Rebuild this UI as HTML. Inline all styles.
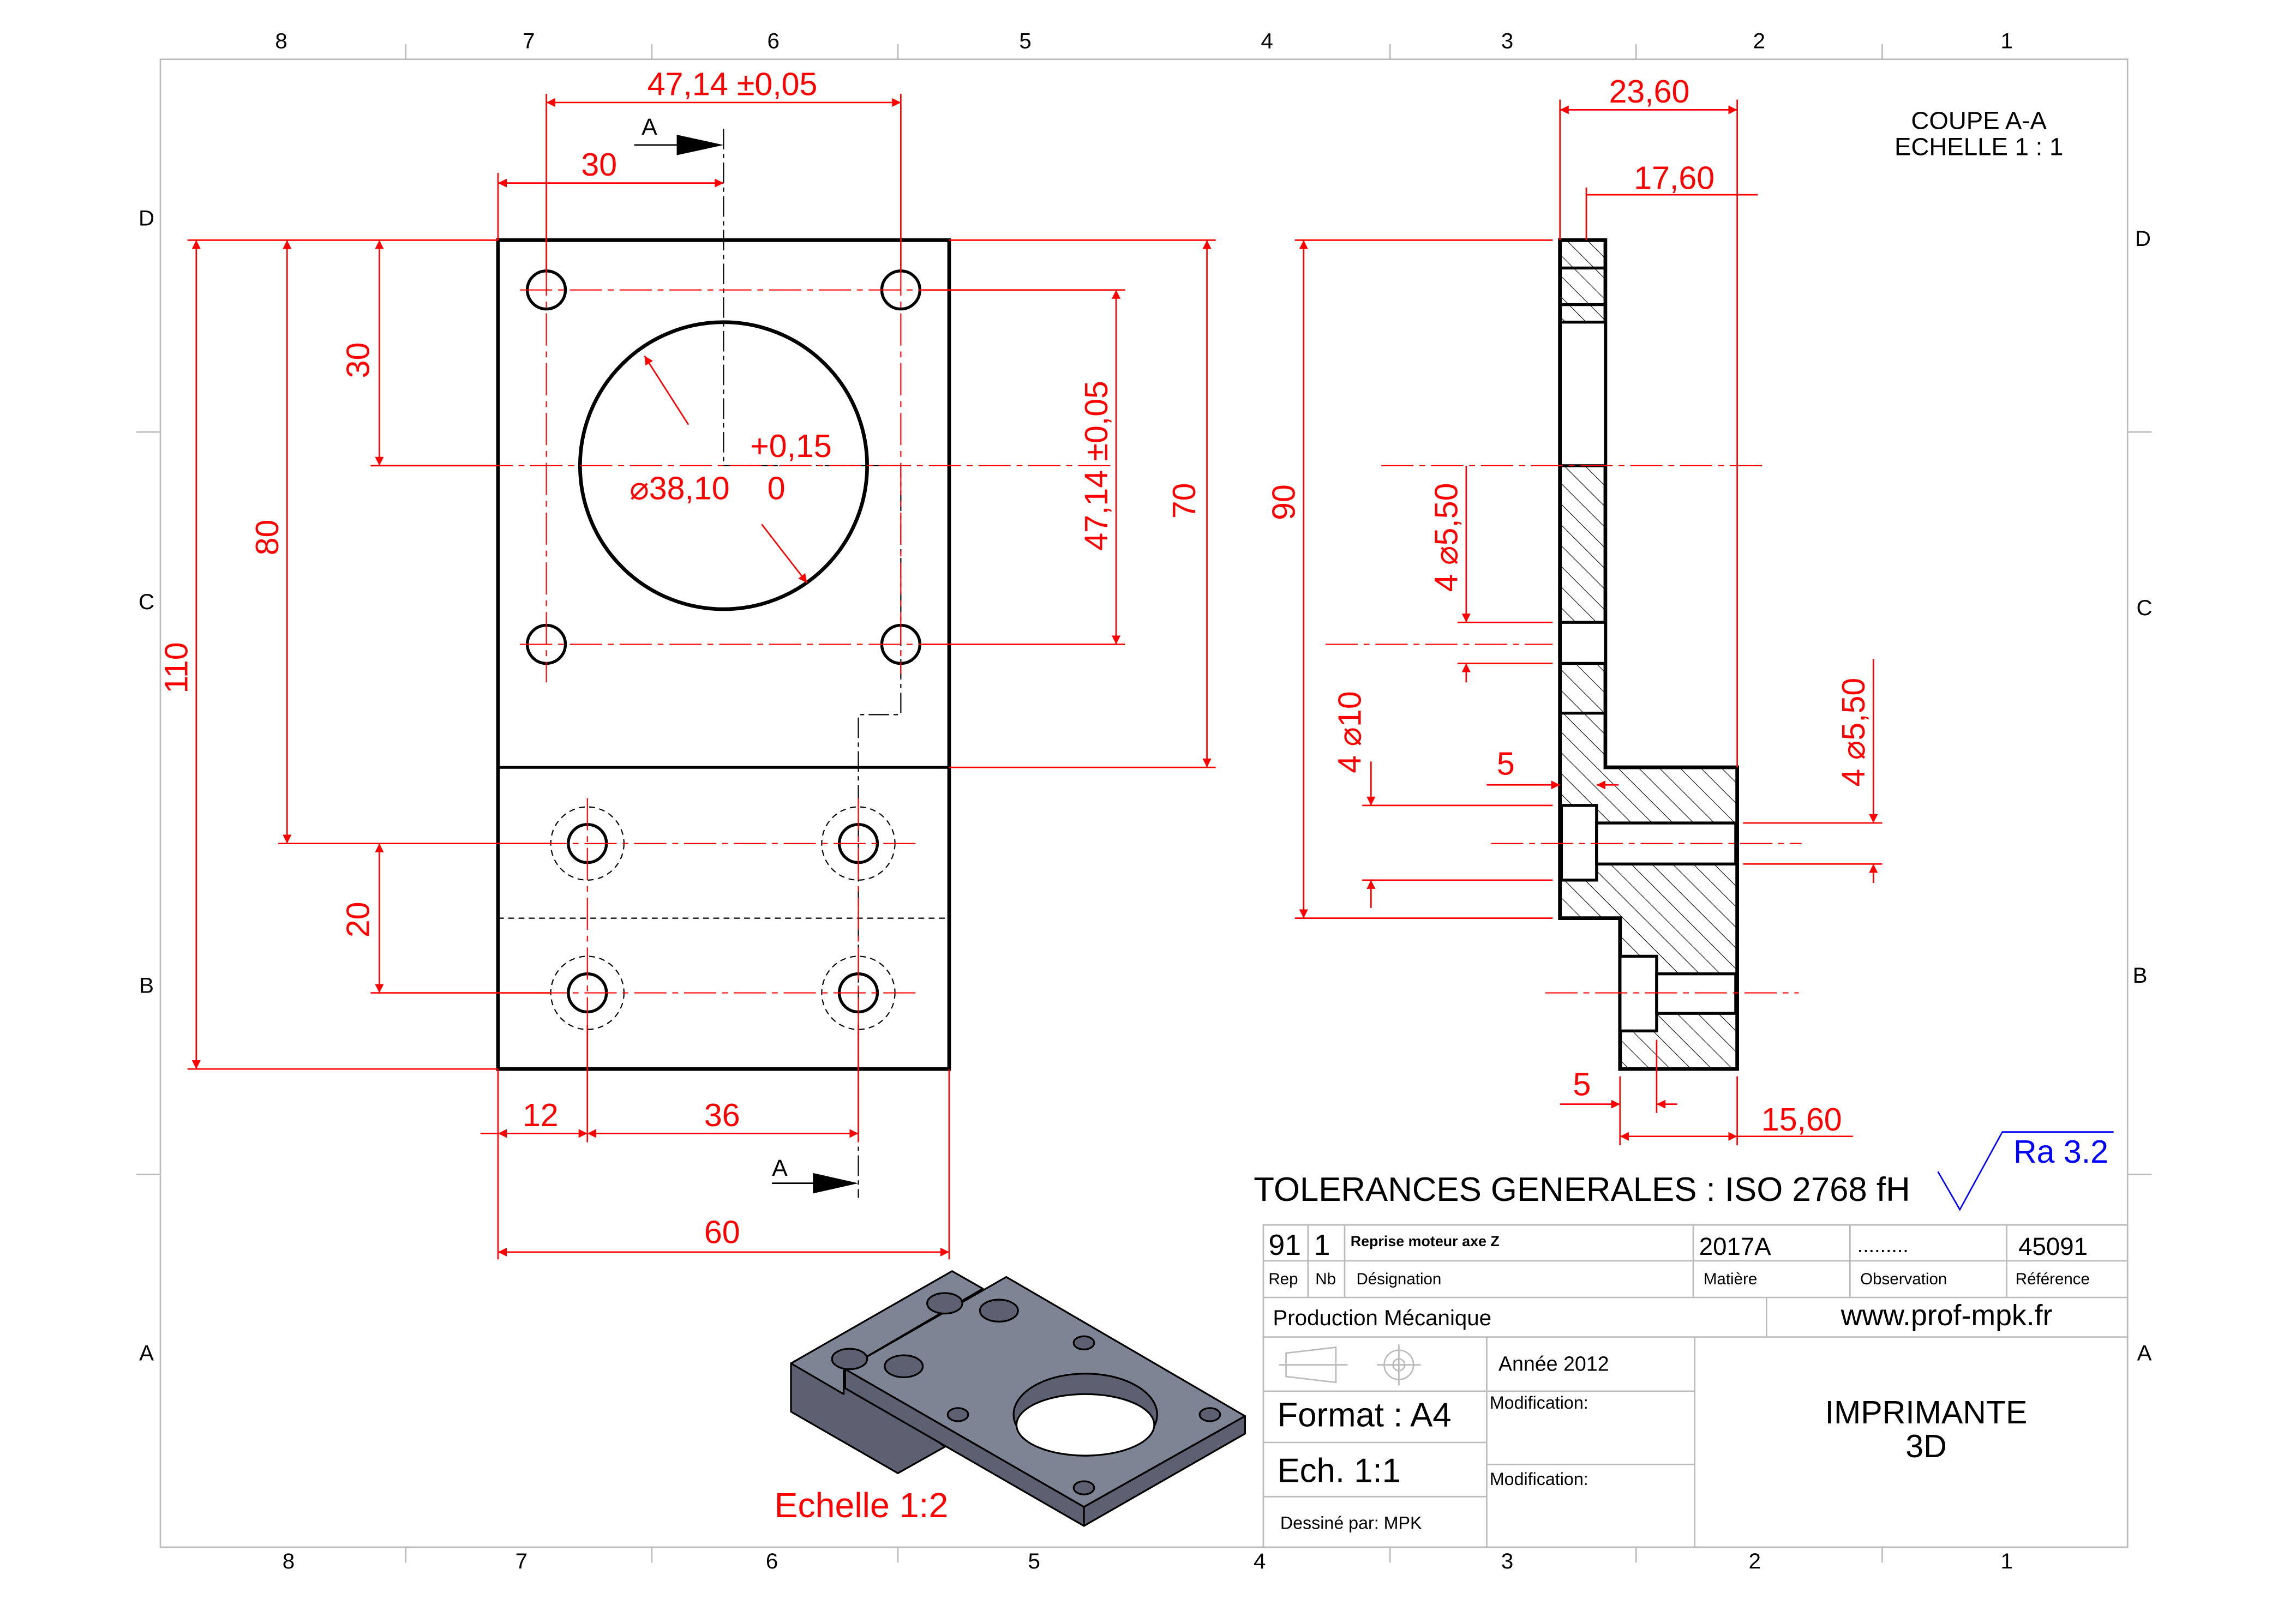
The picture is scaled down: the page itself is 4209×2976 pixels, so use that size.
<!DOCTYPE html>
<html><head><meta charset="utf-8"><style>html,body{margin:0;padding:0;background:#fff}svg{display:block}</style></head><body>
<svg width="4209" height="2976" viewBox="0 0 1567.5 1108.3" preserveAspectRatio="none" xmlns="http://www.w3.org/2000/svg" font-family="Liberation Sans, sans-serif">
<defs>
<pattern id="h" patternUnits="userSpaceOnUse" width="10" height="10" patternTransform="rotate(-45)"><line x1="0" y1="0" x2="0" y2="10" stroke="#000" stroke-width="0.8"/></pattern>
<marker id="ar" viewBox="0 0 10 10" refX="10" refY="5" markerWidth="10" markerHeight="6" orient="auto-start-reverse" markerUnits="userSpaceOnUse"><path d="M0,0 L10,5 L0,10z" fill="#f00"/></marker>
</defs>
<rect width="1570" height="1110" fill="#fff"/>
<rect x="109.5" y="40.5" width="1343" height="1016" fill="none" stroke="#bbb" stroke-width="1"/>
<g stroke="#bbb" stroke-width="1">
<line x1="277" y1="30" x2="277" y2="40"/><line x1="445" y1="30" x2="445" y2="40"/><line x1="613" y1="30" x2="613" y2="40"/><line x1="949" y1="30" x2="949" y2="40"/><line x1="1117" y1="30" x2="1117" y2="40"/><line x1="1285" y1="30" x2="1285" y2="40"/>
<line x1="277" y1="1057" x2="277" y2="1067"/><line x1="445" y1="1057" x2="445" y2="1067"/><line x1="613" y1="1057" x2="613" y2="1067"/><line x1="949" y1="1057" x2="949" y2="1067"/><line x1="1117" y1="1057" x2="1117" y2="1067"/><line x1="1285" y1="1057" x2="1285" y2="1067"/>
<line x1="93" y1="295" x2="109" y2="295"/><line x1="93" y1="802" x2="109" y2="802"/><line x1="1453" y1="295" x2="1469" y2="295"/><line x1="1453" y1="802" x2="1469" y2="802"/>
</g>
<g font-size="15" fill="#000" text-anchor="middle">
<text x="192" y="33">8</text><text x="361" y="33">7</text><text x="528" y="33">6</text><text x="700" y="33">5</text><text x="865" y="33">4</text><text x="1029" y="33">3</text><text x="1201" y="33">2</text><text x="1370" y="33">1</text>
<text x="197" y="1071">8</text><text x="356" y="1071">7</text><text x="527" y="1071">6</text><text x="706" y="1071">5</text><text x="860" y="1071">4</text><text x="1029" y="1071">3</text><text x="1198" y="1071">2</text><text x="1370" y="1071">1</text>
<text x="100" y="154">D</text><text x="100" y="416">C</text><text x="100" y="678">B</text><text x="100" y="929">A</text>
<text x="1463" y="168">D</text><text x="1464" y="420">C</text><text x="1461" y="671">B</text><text x="1464" y="929">A</text>
</g>

<g stroke="#000" fill="none">
<rect x="340" y="164" width="308" height="566" stroke-width="2.5"/>
<line x1="340" y1="524" x2="648" y2="524" stroke-width="2"/>
<circle cx="494" cy="318" r="98" stroke-width="2.5"/>
<g stroke-width="2"><circle cx="373" cy="198" r="13"/><circle cx="615" cy="198" r="13"/><circle cx="373" cy="440" r="13"/><circle cx="615" cy="440" r="13"/>
<circle cx="401" cy="576" r="13"/><circle cx="586" cy="576" r="13"/><circle cx="401" cy="678" r="13"/><circle cx="586" cy="678" r="13"/></g>
<g stroke-width="0.8" stroke-dasharray="4,3"><circle cx="401" cy="576" r="25"/><circle cx="586" cy="576" r="25"/><circle cx="401" cy="678" r="25"/><circle cx="586" cy="678" r="25"/>
<line x1="340" y1="627" x2="648" y2="627"/></g>
<path d="M494,88 V318 H615 V488 H586 V818" stroke-width="0.8" stroke-dasharray="14,3,3,3"/>
</g>
<g stroke="#f00" stroke-width="0.8" stroke-dasharray="22,4,4,4" fill="none">
<line x1="355" y1="198" x2="633" y2="198"/><line x1="355" y1="440" x2="633" y2="440"/><line x1="373" y1="180" x2="373" y2="466"/>
<line x1="615" y1="180" x2="615" y2="460"/><line x1="260" y1="318" x2="760" y2="318"/>
<line x1="365" y1="576" x2="625" y2="576"/><line x1="365" y1="678" x2="625" y2="678"/>
<line x1="401" y1="545" x2="401" y2="710"/><line x1="586" y1="545" x2="586" y2="710"/>
</g>
<line x1="433" y1="99" x2="466" y2="99" stroke="#000" stroke-width="1"/><path d="M462,92 L494,99 L462,106z" fill="#000"/>
<text x="438" y="92" font-size="16">A</text>
<line x1="527" y1="808" x2="558" y2="808" stroke="#000" stroke-width="1"/><path d="M555,801 L586,808 L555,815z" fill="#000"/>
<text x="527" y="803" font-size="16">A</text>

<g stroke="#f00" stroke-width="1" fill="none">
<line x1="373" y1="64" x2="373" y2="185"/><line x1="615" y1="64" x2="615" y2="185"/>
<line x1="373" y1="70" x2="615" y2="70" marker-start="url(#ar)" marker-end="url(#ar)"/>
<line x1="340" y1="118" x2="340" y2="164"/><line x1="340" y1="125" x2="494" y2="125" marker-start="url(#ar)" marker-end="url(#ar)"/>
<line x1="128" y1="164" x2="340" y2="164"/><line x1="128" y1="730" x2="340" y2="730"/><line x1="190" y1="576" x2="376" y2="576"/><line x1="253" y1="318" x2="340" y2="318"/><line x1="253" y1="678" x2="376" y2="678"/>
<line x1="134" y1="164" x2="134" y2="730" marker-start="url(#ar)" marker-end="url(#ar)"/>
<line x1="196" y1="164" x2="196" y2="576" marker-start="url(#ar)" marker-end="url(#ar)"/>
<line x1="259" y1="164" x2="259" y2="318" marker-start="url(#ar)" marker-end="url(#ar)"/>
<line x1="259" y1="576" x2="259" y2="678" marker-start="url(#ar)" marker-end="url(#ar)"/>
<line x1="648" y1="164" x2="830" y2="164"/><line x1="648" y1="524" x2="830" y2="524"/><line x1="630" y1="198" x2="768" y2="198"/><line x1="630" y1="440" x2="768" y2="440"/>
<line x1="762" y1="198" x2="762" y2="440" marker-start="url(#ar)" marker-end="url(#ar)"/>
<line x1="824" y1="164" x2="824" y2="524" marker-start="url(#ar)" marker-end="url(#ar)"/>
<line x1="340" y1="730" x2="340" y2="860"/><line x1="648" y1="730" x2="648" y2="860"/><line x1="401" y1="700" x2="401" y2="780"/><line x1="586" y1="700" x2="586" y2="780"/>
<line x1="328" y1="774" x2="340" y2="774"/><line x1="340" y1="774" x2="401" y2="774" marker-start="url(#ar)" marker-end="url(#ar)"/>
<line x1="401" y1="774" x2="586" y2="774" marker-start="url(#ar)" marker-end="url(#ar)"/>
<line x1="340" y1="855" x2="648" y2="855" marker-start="url(#ar)" marker-end="url(#ar)"/>
<line x1="470" y1="290" x2="440" y2="243" marker-end="url(#ar)"/><line x1="520" y1="358" x2="551" y2="398" marker-end="url(#ar)"/>
</g>
<g fill="#f00" font-size="22" text-anchor="middle">
<text x="500" y="65">47,14 ±0,05</text><text x="409" y="120">30</text>
<text transform="translate(128,456) rotate(-90)">110</text><text transform="translate(190,367) rotate(-90)">80</text>
<text transform="translate(252,246) rotate(-90)">30</text><text transform="translate(252,628) rotate(-90)">20</text>
<text transform="translate(756,318) rotate(-90)">47,14 ±0,05</text><text transform="translate(816,342) rotate(-90)">70</text>
<text x="369" y="769">12</text><text x="493" y="769">36</text><text x="493" y="849">60</text>
<text x="540" y="312">+0,15</text><text x="530" y="341">0</text><text x="464" y="341">⌀38,10</text>
</g>

<path d="M1065,164 H1096 V524 H1186 V730 H1106 V627 H1065 Z" fill="url(#h)" stroke="#000" stroke-width="2.5"/>
<g fill="#fff" stroke="#000" stroke-width="2">
<rect x="1066" y="220" width="29" height="98" stroke="none"/>
<rect x="1066" y="425" width="29" height="28" stroke="none"/>
<rect x="1066" y="550" width="24" height="51"/>
<rect x="1090" y="562" width="95" height="28"/>
<rect x="1106" y="653" width="25" height="51"/>
<rect x="1131" y="665" width="54" height="27"/>
</g>
<g stroke="#000" stroke-width="2">
<line x1="1065" y1="220" x2="1096" y2="220"/><line x1="1065" y1="318" x2="1096" y2="318"/><line x1="1065" y1="425" x2="1096" y2="425"/><line x1="1065" y1="453" x2="1096" y2="453"/><line x1="1065" y1="487" x2="1096" y2="487"/><line x1="1065" y1="183" x2="1096" y2="183"/><line x1="1065" y1="208" x2="1096" y2="208"/>
<line x1="1065" y1="164" x2="1065" y2="627" stroke-width="2.5"/>
</g>
<g stroke="#f00" stroke-width="0.8" stroke-dasharray="22,4,4,4"><line x1="943" y1="318" x2="1205" y2="318"/><line x1="905" y1="440" x2="1060" y2="440"/><line x1="1018" y1="576" x2="1230" y2="576"/><line x1="1055" y1="678" x2="1228" y2="678"/></g>
<g stroke="#f00" stroke-width="1" fill="none">
<line x1="1065" y1="68" x2="1065" y2="164"/><line x1="1186" y1="68" x2="1186" y2="524"/><line x1="1083" y1="128" x2="1083" y2="164"/>
<line x1="1065" y1="75" x2="1186" y2="75" marker-start="url(#ar)" marker-end="url(#ar)"/>
<line x1="1083" y1="133" x2="1200" y2="133"/>
<line x1="884" y1="164" x2="1060" y2="164"/><line x1="884" y1="627" x2="1060" y2="627"/>
<line x1="890" y1="164" x2="890" y2="627" marker-start="url(#ar)" marker-end="url(#ar)"/>
<line x1="995" y1="425" x2="1060" y2="425"/><line x1="995" y1="453" x2="1060" y2="453"/>
<line x1="1001" y1="318" x2="1001" y2="425" marker-end="url(#ar)"/><line x1="1001" y1="466" x2="1001" y2="453" marker-end="url(#ar)"/>
<line x1="930" y1="550" x2="1060" y2="550"/><line x1="930" y1="601" x2="1060" y2="601"/>
<line x1="936" y1="520" x2="936" y2="550" marker-end="url(#ar)"/><line x1="936" y1="620" x2="936" y2="601" marker-end="url(#ar)"/>
<line x1="1015" y1="536" x2="1065" y2="536" marker-end="url(#ar)"/><line x1="1105" y1="536" x2="1090" y2="536" marker-end="url(#ar)"/>
<line x1="1190" y1="562" x2="1285" y2="562"/><line x1="1190" y1="590" x2="1285" y2="590"/>
<line x1="1279" y1="450" x2="1279" y2="562" marker-end="url(#ar)"/><line x1="1279" y1="603" x2="1279" y2="590" marker-end="url(#ar)"/>
<line x1="1106" y1="735" x2="1106" y2="782"/><line x1="1131" y1="710" x2="1131" y2="760"/><line x1="1186" y1="735" x2="1186" y2="782"/>
<line x1="1065" y1="754" x2="1106" y2="754" marker-end="url(#ar)"/><line x1="1145" y1="754" x2="1131" y2="754" marker-end="url(#ar)"/>
<line x1="1106" y1="776" x2="1186" y2="776" marker-start="url(#ar)" marker-end="url(#ar)"/><line x1="1186" y1="776" x2="1265" y2="776"/>
</g>
<g fill="#f00" font-size="22" text-anchor="middle">
<text x="1126" y="70">23,60</text><text x="1143" y="129">17,60</text>
<text transform="translate(884,343) rotate(-90)">90</text>
<text transform="translate(995,367) rotate(-90)">4 ⌀5,50</text>
<text transform="translate(929,500) rotate(-90)">4 ⌀10</text>
<text transform="translate(1273,500) rotate(-90)">4 ⌀5,50</text>
<text x="1028" y="529">5</text><text x="1080" y="748">5</text><text x="1230" y="772">15,60</text>
</g>
<g font-size="17" text-anchor="middle"><text x="1351" y="88">COUPE A-A</text><text x="1351" y="106">ECHELLE 1 : 1</text></g>

<g stroke="#000" stroke-width="1.2" stroke-linejoin="round">
<polygon points="540,931 540,964 613,1006 645,988 577,935" fill="#5d6070"/>
<polygon points="540,931 650,868 671,880 577,935 576,936 576,952 540,931" fill="#7f8494"/>
<polygon points="577,935 740,1029 740,1042 577,948" fill="#5d6070"/>
<polygon points="740,1029 850,967 850,979 740,1042" fill="#5d6070"/>
<polygon points="577,935 687,872 850,967 740,1029" fill="#7f8494"/>
<ellipse cx="741" cy="966" rx="49" ry="28" fill="#5d6070"/>
<ellipse cx="741" cy="973" rx="47" ry="21" fill="#fff"/>
<g fill="#5d6070"><ellipse cx="740" cy="917" rx="7" ry="4.5"/><ellipse cx="654" cy="966" rx="7" ry="4.5"/><ellipse cx="826" cy="966" rx="7" ry="4.5"/><ellipse cx="740" cy="1016" rx="7" ry="4.5"/>
<ellipse cx="682" cy="895" rx="13" ry="7.5"/><ellipse cx="617" cy="933" rx="13" ry="7.5"/><ellipse cx="645" cy="890" rx="12" ry="7"/><ellipse cx="580" cy="928" rx="12" ry="7"/></g>
</g>
<text x="588" y="1036" fill="#f00" font-size="24" text-anchor="middle">Echelle 1:2</text>

<text x="1080" y="820" font-size="23" text-anchor="middle">TOLERANCES GENERALES : ISO 2768 fH</text>
<path d="M1323,800 L1338,826 L1367,773 L1443,773" fill="none" stroke="#00f" stroke-width="1"/>
<text x="1407" y="794" fill="#00f" font-size="22" text-anchor="middle">Ra 3.2</text>
<g stroke="#bbb" stroke-width="1" fill="none">
<rect x="862.5" y="836.5" width="590" height="220"/>
<line x1="862" y1="861" x2="1453" y2="861"/><line x1="862" y1="886" x2="1453" y2="886"/><line x1="862" y1="913" x2="1453" y2="913"/>
<line x1="893" y1="836" x2="893" y2="886"/><line x1="918" y1="836" x2="918" y2="886"/><line x1="1156" y1="836" x2="1156" y2="886"/><line x1="1263" y1="836" x2="1263" y2="886"/><line x1="1370" y1="836" x2="1370" y2="886"/>
<line x1="1206" y1="886" x2="1206" y2="913"/>
<line x1="1015" y1="913" x2="1015" y2="1057"/><line x1="1157" y1="913" x2="1157" y2="1057"/>
<line x1="862" y1="950" x2="1015" y2="950"/><line x1="862" y1="985" x2="1015" y2="985"/><line x1="862" y1="1022" x2="1015" y2="1022"/>
<line x1="1015" y1="950" x2="1157" y2="950"/><line x1="1015" y1="1000" x2="1157" y2="1000"/>
<path d="M878,924 L912,920 L912,944 L878,940 Z M873,932 H920"/><circle cx="955" cy="932" r="10"/><circle cx="955" cy="932" r="4"/><path d="M940,932 H970 M955,918 V946"/>
</g>
<g font-size="20"><text x="866" y="857">91</text><text x="897" y="857">1</text><text x="1160" y="857" font-size="17">2017A</text><text x="1268" y="855" font-size="14">.........</text><text x="1378" y="857" font-size="17">45091</text></g>
<text x="922" y="851" font-size="10" font-weight="bold">Reprise moteur axe Z</text>
<g font-size="11"><text x="866" y="877">Rep</text><text x="898" y="877">Nb</text><text x="926" y="877">Désignation</text><text x="1163" y="877">Matière</text><text x="1270" y="877">Observation</text><text x="1376" y="877">Référence</text></g>
<text x="869" y="905" font-size="15">Production Mécanique</text>
<text x="1329" y="905" font-size="20" text-anchor="middle">www.prof-mpk.fr</text>
<text x="1023" y="936" font-size="14">Année 2012</text>
<text x="1017" y="962" font-size="12">Modification:</text><text x="1017" y="1014" font-size="12">Modification:</text>
<text x="872" y="974" font-size="23">Format : A4</text><text x="872" y="1012" font-size="23">Ech. 1:1</text>
<text x="874" y="1044" font-size="12">Dessiné par: MPK</text>
<g font-size="22" text-anchor="middle"><text x="1315" y="972">IMPRIMANTE</text><text x="1315" y="995">3D</text></g>
</svg>
</body></html>
